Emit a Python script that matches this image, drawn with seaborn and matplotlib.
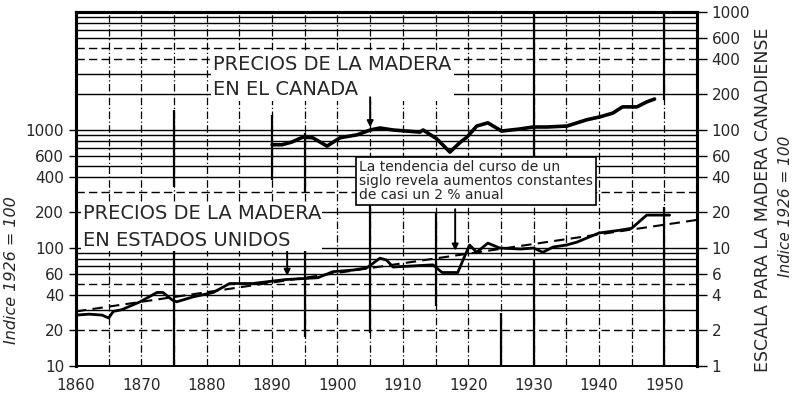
import numpy as np
import pandas as pd
import matplotlib
matplotlib.use("Agg")
import matplotlib.pyplot as plt
import seaborn as sns

# --- datos (indice 1926 = 100) ---
us_years = [1860, 1862, 1864, 1865, 1865.7, 1867, 1869.8, 1872.4, 1873.3, 1874.8,
            1875.4, 1877.9, 1881, 1883.5, 1887, 1892, 1897, 1899.3, 1902.4, 1904.5,
            1906.5, 1907.5, 1908.5, 1914.6, 1916, 1918.4, 1919.2, 1920.2, 1921.3, 1923,
            1924.8, 1928, 1930, 1931.4, 1933, 1935, 1936.6, 1940, 1943, 1945,
            1947.3, 1950.8]
us_values = [27, 27.5, 27, 25.5, 29, 30, 35, 42, 42, 36,
             35, 38.5, 42, 50, 50, 54, 56, 63, 65, 68,
             82, 79, 69, 72, 62, 62, 79, 106, 92, 110,
             100, 98, 100, 92, 102, 106, 112, 134, 141, 147,
             190, 190]

ca_years = [1890, 1891.5, 1893, 1894.7, 1896.2, 1898.4, 1900.4, 1903, 1905, 1906.5,
            1908.5, 1912.6, 1913.1, 1915.2, 1917.2, 1918.7, 1919.8, 1921.3, 1923, 1925.1,
            1927.9, 1929.9, 1932, 1935.1, 1938.1, 1940.1, 1942.1, 1943.6, 1945.8, 1947.3,
            1948.5]
ca_values = [75, 75, 79, 87, 86, 73, 86, 91, 100, 104,
             100, 96, 100, 84, 65, 78, 87, 108, 115, 98,
             102, 106, 106, 108, 122, 129, 139, 157, 157, 173,
             183]

trend_years = [1860, 1955]
trend_values = [29, 173]

left_ticks = [10, 20, 40, 60, 100, 200, 400, 600, 1000]
right_ticks = [1, 2, 4, 6, 10, 20, 40, 60, 100, 200, 400, 600, 1000]
x_ticks = list(range(1860, 1951, 10))

us = pd.DataFrame({"year": us_years, "valor": us_values})
ca = pd.DataFrame({"year": ca_years, "valor": ca_values})
trend = pd.DataFrame({"year": trend_years, "valor": trend_values})

sns.set_style("white")
plt.rcParams['font.family'] = ['DejaVu Sans']

fig = plt.figure(figsize=(8.05, 4.0), dpi=100)
ax = fig.add_axes([0.0944, 0.085, 0.7715, 0.885])
ax.set_yscale("log")
ax.set_xlim(1860, 1955)
ax.set_ylim(10, 10000)

# rejilla logaritmica (mezcla de trazos como en el original)
dashed = {20, 50, 300, 4000, 5000}
for dec in [10, 100, 1000]:
    for m in range(1, 10):
        v = dec * m
        if v == 10:
            continue
        ls = (0, (6, 3)) if v in dashed else "-"
        ax.axhline(v, color="black", lw=1.0, ls=ls, zorder=1)
for yr in range(1865, 1955, 5):
    ax.axvline(yr, color="black", lw=0.9, ls=(0, (6, 2, 1, 2)), zorder=1)

# tramos verticales gruesos del original escaneado
solid_segs = [(1875, 330, 1480), (1875, 10, 100), (1890, 380, 1340),
              (1895, 290, 940), (1895, 17.6, 96), (1905, 19, 270),
              (1915, 32, 200), (1925, 10, 28), (1930, 590, 10000),
              (1930, 10, 79), (1950, 1800, 10000), (1950, 10, 222)]
for x, y0, y1 in solid_segs:
    ax.vlines(x, y0, y1, color="black", lw=1.6, zorder=2)

# tendencia
sns.lineplot(data=trend, x="year", y="valor", ax=ax, color="black", lw=1.5,
             linestyle=(0, (5, 3)), zorder=3)
# Estados Unidos
sns.lineplot(data=us, x="year", y="valor", ax=ax, color="black", lw=2.0, zorder=4)

ax2 = ax.twinx()
ax2.set_yscale("log")
ax2.set_ylim(1, 1000)
# Canada (escala de la derecha)
sns.lineplot(data=ca, x="year", y="valor", ax=ax2, color="black", lw=2.6, zorder=4)

ax.set_xticks(x_ticks)
ax.set_xticklabels([str(t) for t in x_ticks], fontsize=11)
ax.set_yticks(left_ticks)
ax.set_yticklabels([str(t) for t in left_ticks], fontsize=11)
ax.yaxis.set_minor_locator(matplotlib.ticker.NullLocator())
ax.tick_params(axis="both", direction="out", length=5, width=1, color="black")
ax2.set_yticks(right_ticks)
ax2.set_yticklabels([str(t) for t in right_ticks], fontsize=11)
ax2.yaxis.set_minor_locator(matplotlib.ticker.NullLocator())
ax2.tick_params(axis="y", direction="out", length=7, width=1, color="black")
ax.set_xlabel("")
ax.set_ylabel("")
ax2.set_ylabel("")

for a in (ax, ax2):
    for side, sp in a.spines.items():
        sp.set_color("black")
        sp.set_linewidth(2.2 if side in ("top", "right", "left") else 1.2)

# textos
ax.text(1881.0, 2840, "PRECIOS DE LA MADERA\nEN EL CANADA", fontsize=14,
        ha="left", va="center", linespacing=1.4, zorder=6,
        bbox=dict(facecolor="white", edgecolor="none", pad=2))
ax.text(1861.0, 150, "PRECIOS DE LA MADERA\nEN ESTADOS UNIDOS", fontsize=14,
        ha="left", va="center", linespacing=1.5, zorder=6,
        bbox=dict(facecolor="white", edgecolor="none", pad=1))
ax.text(1903.3, 370, "La tendencia del curso de un\nsiglo revela aumentos constantes\nde casi un 2 % anual",
        fontsize=10, ha="left", va="center", linespacing=1.0, zorder=6,
        bbox=dict(facecolor="white", edgecolor="black", lw=1.2, pad=2))

# flechas indicadoras
arrow = dict(arrowstyle="-|>", color="black", lw=1.4, mutation_scale=9)
ax2.annotate("", xy=(1905, 100), xytext=(1905, 200), arrowprops=arrow, zorder=5)
ax.annotate("", xy=(1892.3, 55), xytext=(1892.3, 115), arrowprops=arrow, zorder=5)
ax.annotate("", xy=(1918.0, 90), xytext=(1918.0, 225), arrowprops=arrow, zorder=5)

fig.text(0.014, 0.325, "Indice 1926 = 100", rotation=90, fontsize=11.5,
         style="italic", ha="center", va="center")
fig.text(0.948, 0.50, "ESCALA PARA LA MADERA CANADIENSE", rotation=90, fontsize=12.5,
         ha="center", va="center")
fig.text(0.976, 0.485, "Indice 1926 = 100", rotation=90, fontsize=11,
         style="italic", ha="center", va="center")

fig.savefig("out.png", dpi=100, facecolor="white")
